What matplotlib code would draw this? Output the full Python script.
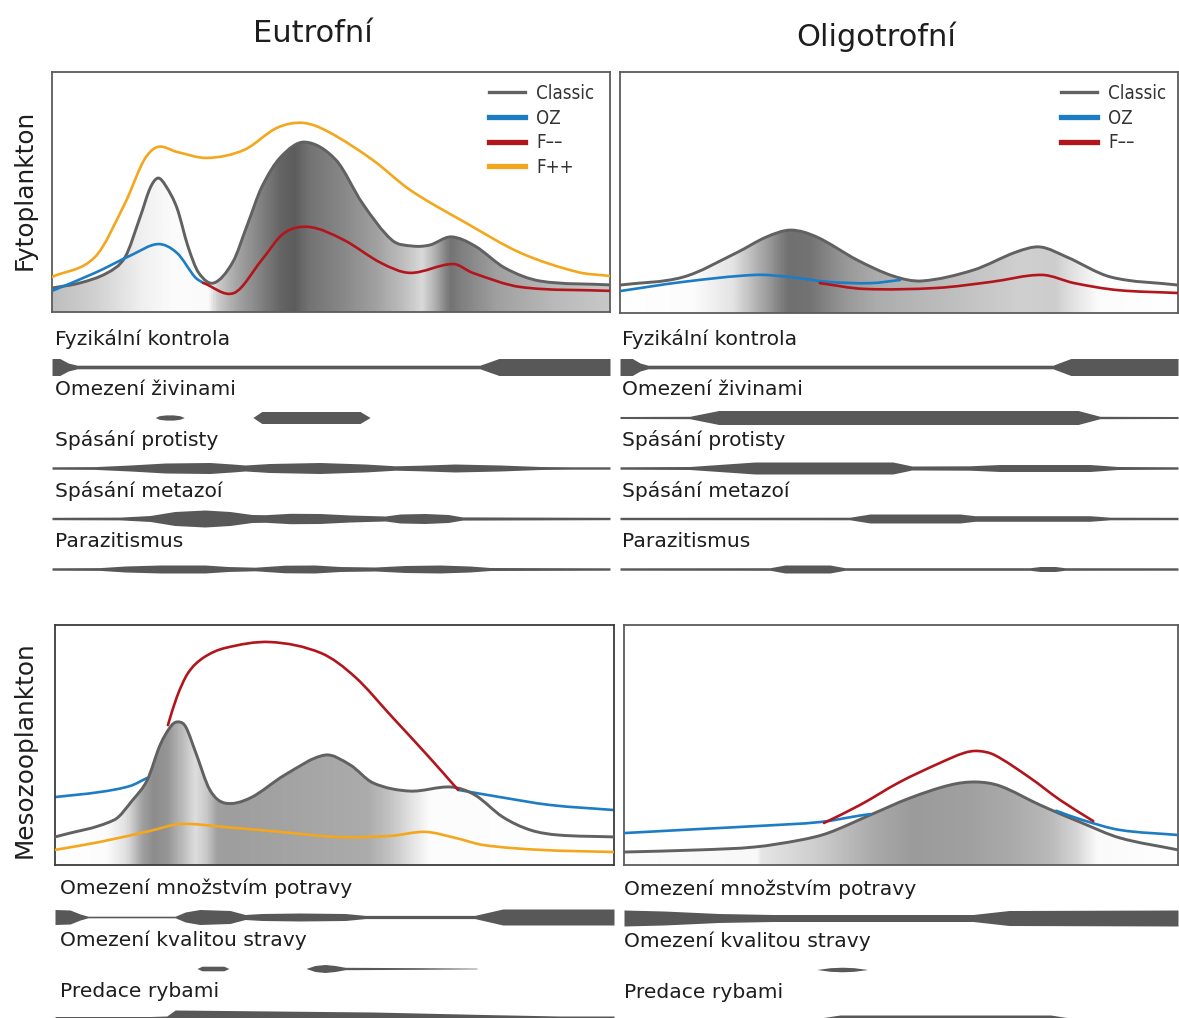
import numpy as np
import matplotlib
matplotlib.use("Agg")
import matplotlib.pyplot as plt
from matplotlib.path import Path
from matplotlib.patches import PathPatch
from matplotlib.lines import Line2D
from matplotlib.colors import LinearSegmentedColormap

W, H = 1179, 1018
plt.rcParams['font.family'] = ['DejaVu Sans']

C_CLASSIC = '#616161'
C_OZ = '#1c7cc4'
C_FMINUS = '#b3151c'
C_FPLUS = '#f4a71d'
C_BAND = '#585858'
C_TEXT = '#1e1e1e'

# ---------- Fytoplankton, eutrofni (x: 0-100 season, y: 0-100 biomass) ----------
eu_phy_classic_x = [0, 5, 9.9, 13.1, 15.8, 17.6, 19, 20.4, 22.4, 24.4, 26.3, 29, 32.4, 35, 37.6,
                    41, 45.3, 50.9, 55.6, 60.9, 64.5, 67.7, 71.5, 75.8, 81.2, 87.5, 100]
eu_phy_classic_y = [10, 12.1, 16.3, 22.9, 39.6, 51.7, 55.8, 52.5, 43.3, 27.1, 16.3, 12.1, 20.8, 36.3, 52.1,
                    64.6, 70.8, 63.3, 45.4, 30, 27.5, 27.9, 31.3, 27.5, 18.3, 12.9, 11.3]
eu_phy_oz_x = [0, 7.7, 14.3, 19, 22.4, 25.6, 27.1]
eu_phy_oz_y = [8.8, 16.3, 23.8, 28.3, 24.6, 14.6, 12.1]
eu_phy_fminus_x = [27.1, 32.6, 37.6, 41.6, 46.2, 52.3, 59, 64.2, 71.9, 75.4, 84, 100]
eu_phy_fminus_y = [12.1, 7.9, 21.7, 32.9, 35.4, 30, 20.4, 16.3, 20, 16.3, 10.4, 8.8]
eu_phy_fplus_x = [0, 7.7, 13.1, 16.5, 19, 22.4, 27.8, 34.4, 40.3, 45, 49.6, 57.5, 64.2, 74.2, 84, 94.1, 100]
eu_phy_fplus_y = [14.6, 22.9, 45.4, 63.3, 68.8, 66.7, 64.2, 67.5, 76.7, 78.8, 75, 63.3, 50.8, 37.1, 24.6, 16.7, 15]
eu_phy_shade_x = [0, 8, 16, 22, 28, 29.5, 33, 38, 41, 43.5, 46, 52, 58, 63, 66.5, 69, 71.5, 74, 80, 90, 100]
eu_phy_shade_g = [190, 210, 240, 252, 250, 205, 165, 125, 100, 92, 115, 135, 160, 190, 218, 170, 115, 130, 160, 185, 200]

# ---------- Fytoplankton, oligotrofni ----------
ol_phy_classic_x = [0, 11.3, 20.8, 26.2, 30.6, 35.3, 42.5, 48.9, 54.1, 63.3, 71, 75.3, 80.1, 88, 100]
ol_phy_classic_y = [11.6, 14.9, 24.9, 31.5, 34.4, 31.5, 22, 15.4, 13.3, 17.8, 25.3, 27.4, 23.2, 14.9, 11.6]
ol_phy_oz_x = [0, 11.3, 24.2, 30.6, 37.3, 45, 50.2]
ol_phy_oz_y = [9.1, 12.9, 15.8, 14.9, 12.9, 12.4, 13.7]
ol_phy_fminus_x = [35.8, 43.7, 56.8, 66.5, 75.6, 81.4, 89.2, 100]
ol_phy_fminus_y = [12.4, 10, 10.4, 12.9, 15.8, 12.4, 9.5, 8.3]
ol_phy_shade_x = [0, 13, 20, 26, 30, 34, 40, 46, 55, 65, 72, 78, 82, 86, 100]
ol_phy_shade_g = [255, 252, 228, 160, 112, 115, 150, 172, 185, 198, 208, 205, 230, 252, 255]

# ---------- Mesozooplankton, eutrofni ----------
eu_zoo_classic_x = [0, 10.6, 13.9, 16.5, 18.8, 20.9, 22.2, 23.4, 25.2, 27.7, 30.4, 34.9, 41.1, 48.3,
                    52.8, 56.9, 63.5, 70.8, 75.1, 80.1, 85, 90, 100]
eu_zoo_classic_y = [11.7, 18.8, 27.1, 35.4, 50, 58.3, 59.6, 57.5, 46.7, 31.3, 25.8, 27.9, 37.5, 45.8,
                    41.7, 34.2, 30.8, 32.5, 29.2, 20, 14.6, 12.5, 11.7]
eu_zoo_oz_left_x = [0, 8, 13.4, 16.5]
eu_zoo_oz_left_y = [28.3, 30.4, 32.9, 36.3]
eu_zoo_oz_right_x = [72.1, 79.6, 88.6, 100]
eu_zoo_oz_right_y = [31.3, 28.3, 25, 22.9]
eu_zoo_fminus_x = [20.2, 21.8, 23.8, 26.5, 30.4, 38.5, 47.6, 53.7, 60.3, 66.9, 72.1]
eu_zoo_fminus_y = [58.3, 70, 80, 86.3, 90.4, 92.9, 88.3, 78.3, 61.7, 45, 31.3]
eu_zoo_fplus_x = [0, 8, 17, 22.5, 30.4, 40.3, 50.3, 59.9, 66.2, 71.6, 76.7, 86.8, 100]
eu_zoo_fplus_y = [6.3, 9.6, 14.2, 17.1, 15.8, 13.8, 11.7, 12.1, 13.8, 11.3, 8.3, 6.3, 5.4]
eu_zoo_shade_x = [0, 9, 12.5, 15.5, 17.5, 20, 22.5, 25, 27, 29, 31, 50, 56, 60, 64, 67, 100]
eu_zoo_shade_g = [255, 252, 225, 160, 140, 150, 185, 222, 200, 160, 158, 168, 172, 195, 228, 252, 255]

# ---------- Mesozooplankton, oligotrofni ----------
ol_zoo_classic_x = [0, 13.7, 23.6, 31.8, 36.8, 44.4, 51.6, 58.8, 63.5, 67.9, 75.1, 82.7, 89.5, 100]
ol_zoo_classic_y = [5.4, 6.3, 7.5, 10.4, 13.3, 20.8, 27.9, 33.3, 34.6, 32.9, 25, 17.5, 11.3, 6.3]
ol_zoo_oz_left_x = [0, 13.7, 24.5, 35.4, 42.6, 44.5]
ol_zoo_oz_left_y = [13.3, 15, 16.3, 17.9, 20.6, 21.2]
ol_zoo_oz_right_x = [78, 82.7, 89.5, 100]
ol_zoo_oz_right_y = [22.6, 18.8, 14.6, 12.5]
ol_zoo_fminus_x = [36.1, 42.6, 49.8, 57, 61.4, 63.9, 66.9, 73.3, 78.7, 84.7]
ol_zoo_fminus_y = [17.5, 25, 34.6, 42.5, 46.7, 47.5, 45.8, 36.3, 27.1, 18.3]
ol_zoo_shade_x = [0, 24, 24.6, 35, 45, 52, 62, 70, 77, 82, 85.5, 100]
ol_zoo_shade_g = [252, 248, 230, 205, 170, 155, 160, 170, 185, 215, 250, 255]

# ---------- control factors: (x positions, relative strength) ----------
phy_labels = ['Fyzikální kontrola', 'Omezení živinami', 'Spásání protisty',
              'Spásání metazoí', 'Parazitismus']
zoo_labels = ['Omezení množstvím potravy', 'Omezení kvalitou stravy', 'Predace rybami']

eu_phy_bands = [
    ([0, 1.4, 2.9, 4.5, 76.7, 80.1, 100],
     [8.5, 8.5, 4, 1.8, 1.8, 8.5, 8.5]),
    ([18.5, 19.2, 20.4, 21.7, 22.9, 23.7, 36, 37.6, 55.2, 57],
     [0, 1.8, 2.6, 2.6, 1.8, 0, 0, 6, 6, 0]),
    ([0, 7.7, 14, 20.3, 28.3, 32.3, 34.6, 39, 48, 56.1, 61.5, 66, 72.2, 80.3, 87.5, 92.8, 100],
     [1.2, 1.4, 3, 5, 5.5, 4, 3, 4.5, 5.5, 4, 2.2, 2.8, 4, 3, 1.5, 1.2, 1.2]),
    ([0, 12.2, 17.6, 22, 27.4, 31.9, 35.8, 38.2, 42.7, 48, 53.4, 59.7, 62.4, 66.8, 71, 73.5, 100],
     [1.2, 1.4, 3, 7, 8.5, 7, 4, 3.8, 5.2, 5, 3.5, 2.5, 4.5, 5, 4, 1.6, 1.2]),
    ([0, 8.6, 13.1, 19.4, 27.4, 31.5, 36.4, 41.8, 47.1, 51.6, 57.9, 63.3, 69.5, 74.9, 78.5, 100],
     [1.2, 1.4, 3, 4, 4, 2.5, 1.8, 3.8, 4, 2.5, 2, 3.5, 4, 3, 1.5, 1.2]),
]
ol_phy_bands = [
    ([0, 2.2, 3.6, 5, 77.6, 80.8, 100],
     [8.5, 8.5, 4, 1.8, 1.8, 8.5, 8.5]),
    ([0, 12.5, 17.7, 82.1, 86, 100],
     [1, 1.2, 7, 7, 1.2, 1]),
    ([0, 12.5, 24.2, 48.9, 52.3, 62.7, 68.1, 84.2, 89.2, 100],
     [1.2, 1.5, 6, 6, 2, 2.2, 3.5, 3.5, 1.5, 1.2]),
    ([0, 41.2, 44.8, 60.9, 63.6, 84.2, 87.8, 100],
     [1.2, 1.3, 4.5, 4.5, 2.8, 2.8, 1.3, 1.2]),
    ([0, 26.9, 29.6, 37.6, 40.3, 73.5, 75.3, 78, 79.7, 100],
     [1.2, 1.3, 4, 4, 1.3, 1.3, 2.5, 2.5, 1.3, 1.2]),
]
eu_zoo_bands = [
    ([0, 2.7, 4.5, 5.9, 21.5, 23.3, 25.9, 31.3, 34, 37, 43.8, 51.9, 55.5, 75.1, 80.1, 100],
     [7.5, 7, 3, 0.8, 0.8, 5, 7.5, 6.5, 2.5, 3.5, 4, 3.5, 1.6, 1.6, 8, 8]),
    ([25.4, 26.3, 30.2, 31.1, 44.9, 46.5, 48.3, 50.1, 51.9, 65.3, 75.5],
     [0, 2.3, 2.3, 0, 0, 3, 4, 3, 1.2, 0.8, 0.3]),
    ([0, 17, 20, 21.5, 56.9, 76.7, 90.3, 100],
     [3.5, 3.5, 4, 10, 8, 5.5, 4, 4]),
]
ol_zoo_bands = [
    ([0, 7.2, 17.1, 26.9, 63, 69.5, 100],
     [8, 7, 4.5, 3.5, 3.5, 7.5, 8]),
    ([34.8, 37.2, 39.4, 41.5, 44],
     [0, 1.8, 2.3, 1.8, 0]),
    ([0, 35.4, 39, 77, 80.5, 100],
     [3, 3, 6, 6, 3, 3]),
]


def frac(x0, y0, x1, y1):
    return [x0 / W, 1 - y1 / H, (x1 - x0) / W, (y1 - y0) / H]


def smooth_path(xs, ys):
    # cubic Hermite through the points (curves are functions of x)
    x = np.asarray(xs, float)
    y = np.asarray(ys, float)
    n = len(x)
    m = np.empty(n)
    m[0] = (y[1] - y[0]) / (x[1] - x[0])
    m[-1] = (y[-1] - y[-2]) / (x[-1] - x[-2])
    m[1:-1] = (y[2:] - y[:-2]) / (x[2:] - x[:-2])
    verts = [(x[0], y[0])]
    codes = [Path.MOVETO]
    for i in range(n - 1):
        h = (x[i + 1] - x[i]) / 3
        verts += [(x[i] + h, y[i] + m[i] * h), (x[i + 1] - h, y[i + 1] - m[i + 1] * h),
                  (x[i + 1], y[i + 1])]
        codes += [Path.CURVE4] * 3
    return verts, codes


def draw_curve(ax, xs, ys, color, lw=1.9, z=3):
    verts, codes = smooth_path(xs, ys)
    ax.add_patch(PathPatch(Path(verts, codes), fill=False, edgecolor=color,
                           lw=lw, zorder=z, capstyle='round', joinstyle='round'))


def shade_under(ax, xs, ys, sx, sg):
    verts, codes = smooth_path(xs, ys)
    verts = verts + [(xs[-1], 0), (xs[0], 0), (xs[0], 0)]
    codes = codes + [Path.LINETO, Path.LINETO, Path.CLOSEPOLY]
    clip = PathPatch(Path(verts, codes), transform=ax.transData, fc='none', ec='none')
    cmap = LinearSegmentedColormap.from_list(
        'shade', [(x / 100, (g / 255,) * 3) for x, g in zip(sx, sg)])
    im = ax.imshow(np.linspace(0, 1, 800)[None, :], cmap=cmap, extent=[0, 100, 0, 100],
                   aspect='auto', zorder=1, interpolation='bilinear')
    im.set_clip_path(clip)


def panel(rect, spine='#5c5c5c'):
    ax = fig.add_axes(rect)
    ax.set_xticks([])
    ax.set_yticks([])
    for s in ax.spines.values():
        s.set_color(spine)
        s.set_linewidth(1.3)
    return ax


def finish(ax):
    ax.set_xlim(0, 100)
    ax.set_ylim(0, 100)


def add_legend(ax, labels, colors, widths, anchor):
    handles = [Line2D([], [], color=c, lw=w) for c, w in zip(colors, widths)]
    leg = ax.legend(handles, labels, loc='upper left', bbox_to_anchor=anchor, frameon=False,
                    handlelength=1.95, handletextpad=0.6, labelspacing=0.3,
                    borderpad=0, borderaxespad=0,
                    prop={'family': 'DejaVu Sans', 'stretch': 'condensed', 'size': 13.4})
    for t in leg.get_texts():
        t.set_color('#333333')


def band_block(rect, bands, labels, label_x, row_px, top_rows=0.9, bottom_rows=0.5):
    ax = fig.add_axes(rect)
    ax.axis('off')
    for i, (xs, hw) in enumerate(bands):
        hw = np.asarray(hw) / row_px
        ax.fill_between(xs, i - hw, i + hw, color=C_BAND, lw=0)
        ax.text(label_x, i - 0.55, labels[i], fontsize=14.6, color=C_TEXT,
                ha='left', va='center')
    ax.set_xlim(0, 100)
    ax.set_ylim(len(bands) - 1 + bottom_rows, -top_rows)
    return ax


fig = plt.figure(figsize=(W / 100, H / 100), dpi=100)

# column titles and row labels
fig.text(313 / W, 1 - 33 / H, 'Eutrofní', fontsize=22, ha='center', va='center', color=C_TEXT)
fig.text(876 / W, 1 - 37 / H, 'Oligotrofní', fontsize=22, ha='center', va='center', color=C_TEXT)
fig.text(25 / W, 1 - 190 / H, 'Fytoplankton', fontsize=17.8, rotation=90,
         ha='center', va='center', color=C_TEXT)
fig.text(25 / W, 1 - 750 / H, 'Mesozooplankton', fontsize=17.8, rotation=90,
         ha='center', va='center', color=C_TEXT)

# phytoplankton, eutrophic
ax = panel(frac(52, 72, 610, 312))
shade_under(ax, eu_phy_classic_x, eu_phy_classic_y, eu_phy_shade_x, eu_phy_shade_g)
draw_curve(ax, eu_phy_classic_x, eu_phy_classic_y, C_CLASSIC, lw=2.1, z=3)
draw_curve(ax, eu_phy_oz_x, eu_phy_oz_y, C_OZ, z=4)
draw_curve(ax, eu_phy_fminus_x, eu_phy_fminus_y, C_FMINUS, z=4)
draw_curve(ax, eu_phy_fplus_x, eu_phy_fplus_y, C_FPLUS, z=5)
add_legend(ax, ['Classic', 'OZ', 'F––', 'F++'], [C_CLASSIC, C_OZ, C_FMINUS, C_FPLUS],
           [2.4, 3.8, 3.8, 3.8], ((489 - 52) / 558, (312 - 84) / 240))
finish(ax)

# phytoplankton, oligotrophic
ax = panel(frac(620, 72, 1178, 313))
shade_under(ax, ol_phy_classic_x, ol_phy_classic_y, ol_phy_shade_x, ol_phy_shade_g)
draw_curve(ax, ol_phy_classic_x, ol_phy_classic_y, C_CLASSIC, lw=2.1, z=3)
draw_curve(ax, ol_phy_oz_x, ol_phy_oz_y, C_OZ, z=4)
draw_curve(ax, ol_phy_fminus_x, ol_phy_fminus_y, C_FMINUS, z=4)
add_legend(ax, ['Classic', 'OZ', 'F––'], [C_CLASSIC, C_OZ, C_FMINUS],
           [2.4, 3.8, 3.8], ((1061 - 620) / 558, (313 - 84) / 241))
finish(ax)

# mesozooplankton, eutrophic
ax = panel(frac(55, 625, 614, 865), spine='#3c3c3c')
shade_under(ax, eu_zoo_classic_x, eu_zoo_classic_y, eu_zoo_shade_x, eu_zoo_shade_g)
draw_curve(ax, eu_zoo_classic_x, eu_zoo_classic_y, C_CLASSIC, lw=2.1, z=3)
draw_curve(ax, eu_zoo_oz_left_x, eu_zoo_oz_left_y, C_OZ, z=2)
draw_curve(ax, eu_zoo_oz_right_x, eu_zoo_oz_right_y, C_OZ, z=2)
draw_curve(ax, eu_zoo_fminus_x, eu_zoo_fminus_y, C_FMINUS, z=4)
draw_curve(ax, eu_zoo_fplus_x, eu_zoo_fplus_y, C_FPLUS, z=4)
finish(ax)

# mesozooplankton, oligotrophic
ax = panel(frac(624, 625, 1178, 865))
shade_under(ax, ol_zoo_classic_x, ol_zoo_classic_y, ol_zoo_shade_x, ol_zoo_shade_g)
draw_curve(ax, ol_zoo_classic_x, ol_zoo_classic_y, C_CLASSIC, lw=2.1, z=3)
draw_curve(ax, ol_zoo_oz_left_x, ol_zoo_oz_left_y, C_OZ, z=4)
draw_curve(ax, ol_zoo_oz_right_x, ol_zoo_oz_right_y, C_OZ, z=4)
draw_curve(ax, ol_zoo_fminus_x, ol_zoo_fminus_y, C_FMINUS, z=4)
finish(ax)

# control-factor strips
r_phy = 50.5
band_block(frac(52, 367 - 0.9 * r_phy, 610, 569 + 0.5 * r_phy), eu_phy_bands, phy_labels, 0.5, r_phy)
band_block(frac(620, 367 - 0.9 * r_phy, 1178, 569 + 0.5 * r_phy), ol_phy_bands, phy_labels, 0.3, r_phy)
r_zoo = 51.5
band_block(frac(55, 917 - 0.9 * r_zoo, 614, 1020 + 0.5 * r_zoo), eu_zoo_bands, zoo_labels, 0.9, r_zoo)
band_block(frac(624, 918 - 0.9 * r_zoo, 1178, 1021 + 0.5 * r_zoo), ol_zoo_bands, zoo_labels, 0.0, r_zoo)

fig.savefig('out.png', dpi=100)
